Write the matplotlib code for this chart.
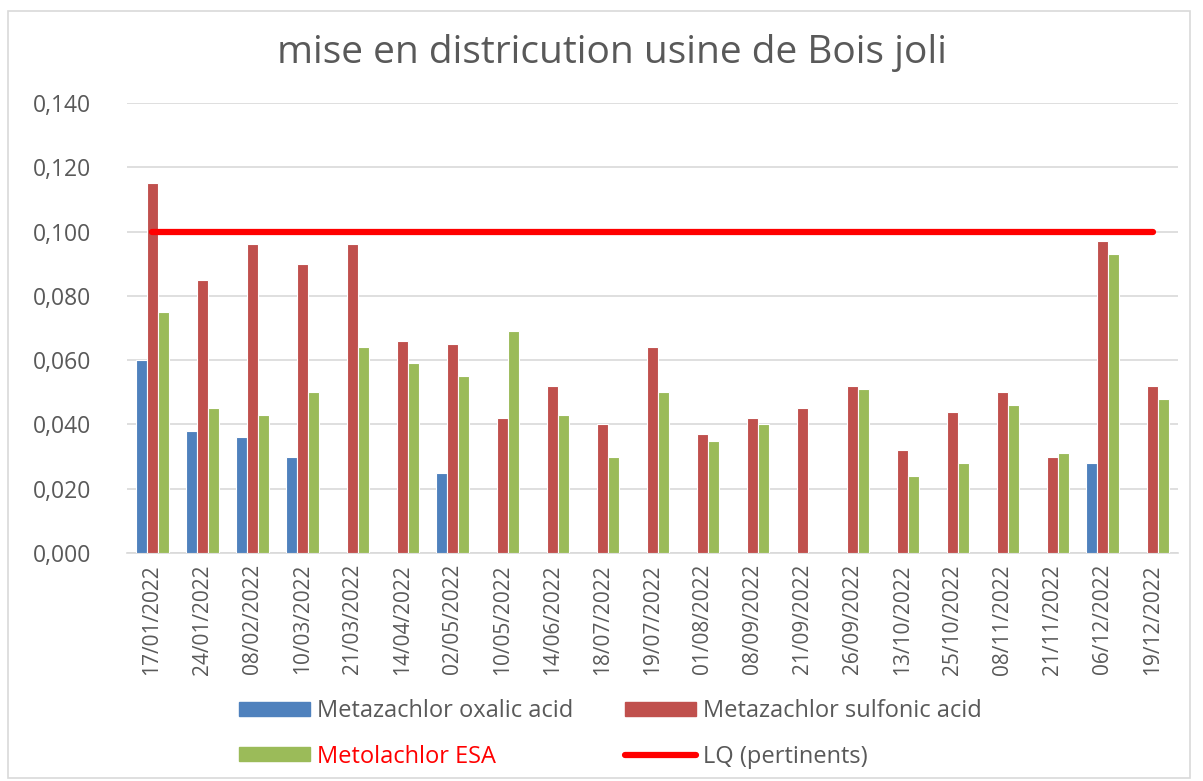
import matplotlib.pyplot as plt
import numpy as np
from matplotlib.patches import Rectangle, Patch
from matplotlib.lines import Line2D
from matplotlib.ticker import FuncFormatter

plt.rcParams['font.family'] = ['Open Sans', 'DejaVu Sans']

dates = ['17/01/2022', '24/01/2022', '08/02/2022', '10/03/2022', '21/03/2022',
         '14/04/2022', '02/05/2022', '10/05/2022', '14/06/2022', '18/07/2022',
         '19/07/2022', '01/08/2022', '08/09/2022', '21/09/2022', '26/09/2022',
         '13/10/2022', '25/10/2022', '08/11/2022', '21/11/2022', '06/12/2022',
         '19/12/2022']
oxalic = [0.060, 0.038, 0.036, 0.030, np.nan, np.nan, 0.025, np.nan, np.nan, np.nan,
          np.nan, np.nan, np.nan, np.nan, np.nan, np.nan, np.nan, np.nan, np.nan, 0.028,
          np.nan]
sulfonic = [0.115, 0.085, 0.096, 0.090, 0.096, 0.066, 0.065, 0.042, 0.052, 0.040,
            0.064, 0.037, 0.042, 0.045, 0.052, 0.032, 0.044, 0.050, 0.030, 0.097,
            0.052]
esa = [0.075, 0.045, 0.043, 0.050, 0.064, 0.059, 0.055, 0.069, 0.043, 0.030,
       0.050, 0.035, 0.040, np.nan, 0.051, 0.024, 0.028, 0.046, 0.031, 0.093,
       0.048]
lq = [0.100] * len(dates)

c_blue = '#4f81bd'
c_red = '#c0504d'
c_green = '#9bbb59'
c_text = '#595959'

fig = plt.figure(figsize=(12.03, 7.81), dpi=100)
ax = fig.add_axes([127 / 1203, 1 - 553 / 781, 1051 / 1203, 450 / 781])

x = np.arange(len(dates))
w = 0.22
ax.bar(x - w, oxalic, w, color=c_blue, edgecolor='white', linewidth=0.8, zorder=3)
ax.bar(x, sulfonic, w, color=c_red, edgecolor='white', linewidth=0.8, zorder=3)
ax.bar(x + w, esa, w, color=c_green, edgecolor='white', linewidth=0.8, zorder=3)
ax.plot(x, lq, color='#ff0000', lw=4.5, solid_capstyle='round', zorder=4)

ax.set_xlim(-0.5, len(dates) - 0.5)
ax.set_ylim(0, 0.14)
ax.set_yticks(np.arange(0, 0.141, 0.02))
ax.yaxis.set_major_formatter(FuncFormatter(lambda v, p: f'{v:.3f}'.replace('.', ',')))
ax.set_xticks(x)
ax.set_xticklabels(dates, rotation=90)
ax.tick_params(axis='both', length=0, labelsize=15, colors=c_text)
ax.tick_params(axis='y', labelsize=16.5, pad=26)
ax.tick_params(axis='x', pad=8)
ax.grid(axis='y', color='#d9d9d9', lw=1.2, zorder=0)
for s in ['top', 'right', 'left']:
    ax.spines[s].set_visible(False)
ax.spines['bottom'].set_color('#d9d9d9')
ax.spines['bottom'].set_linewidth(1.2)

fig.text(0.509, 1 - 53 / 781, 'mise en districution usine de Bois joli', ha='center',
         va='center', fontsize=28, color=c_text)

handles = [Patch(color=c_blue), Patch(color=c_green), Patch(color=c_red),
           Line2D([], [], color='#ff0000', lw=4.5, solid_capstyle='round')]
labels = ['Metazachlor oxalic acid', 'Metolachlor ESA', 'Metazachlor sulfonic acid',
          'LQ (pertinents)']
leg = fig.legend(handles, labels, ncol=2, loc='center left',
                 bbox_to_anchor=(218 / 1203, 1 - 734 / 781), frameon=False,
                 fontsize=17, handlelength=3.0, handleheight=0.55, handletextpad=0.3,
                 columnspacing=2.2, labelspacing=0.9)
for t in leg.get_texts():
    t.set_color(c_text)
leg.get_texts()[1].set_color('#ff0000')

fig.patches.append(Rectangle((8 / 1203, 3 / 781), 1182 / 1203, 767 / 781,
                             transform=fig.transFigure, fill=False,
                             edgecolor='#d9d9d9', lw=1.2))

fig.savefig('out.png', dpi=100)
